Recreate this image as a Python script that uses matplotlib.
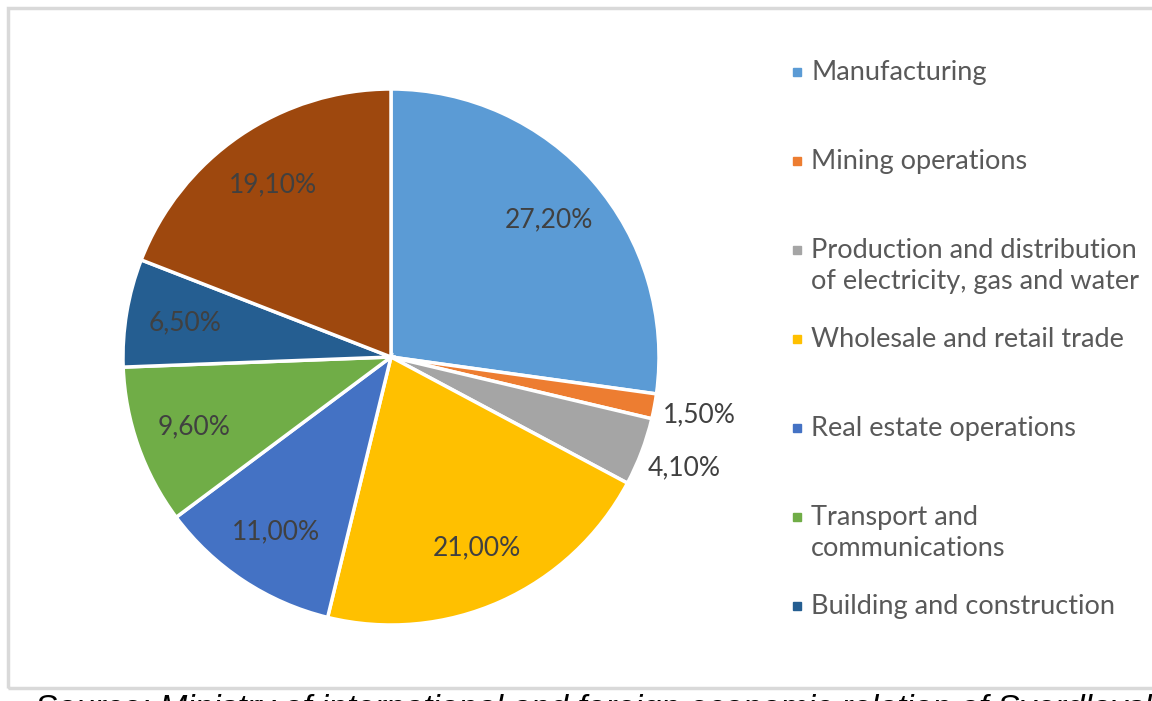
import matplotlib
matplotlib.use("Agg")
import matplotlib.pyplot as plt
import numpy as np
from matplotlib.patches import Rectangle

categories = [
    "Manufacturing",
    "Mining operations",
    "Production and distribution\nof electricity, gas and water",
    "Wholesale and retail trade",
    "Real estate operations",
    "Transport and\ncommunications",
    "Building and construction",
    "Other",
]
shares = [27.2, 1.5, 4.1, 21.0, 11.0, 9.6, 6.5, 19.1]
colors = ["#5B9BD5", "#ED7D31", "#A5A5A5", "#FFC000", "#4472C4", "#70AD47", "#255E91", "#9E480E"]
legend_count = 7  # the last entry is cut off in the original

W, H = 1152, 701
fig = plt.figure(figsize=(W / 100, H / 100), dpi=100)
plt.rcParams["font.family"] = ["Lato", "DejaVu Sans"]

# light frame around the chart area
fig.patches.append(Rectangle((8 / W, 1 - 688 / H), 1.2, 680 / H, transform=fig.transFigure,
                             fill=False, edgecolor="#d9d9d9", lw=2.5))

cx, cy, r = 391, 357, 268
ax = fig.add_axes([(cx - r) / W, (H - cy - r) / H, 2 * r / W, 2 * r / H])
wedges, _ = ax.pie(shares, colors=colors, startangle=90, counterclock=False,
                   wedgeprops=dict(edgecolor="white", linewidth=2.5))
ax.set_xlim(-1, 1)
ax.set_ylim(-1, 1)
ax.set_aspect("equal")
ax.axis("off")

# data labels
cum = 0.0
for val in shares:
    mid = (cum + val / 2) / 100 * 2 * np.pi
    cum += val
    dist = 1.17 if val < 5 else 0.78
    x, y = dist * np.sin(mid), dist * np.cos(mid)
    ax.text(x, y, f"{val:.2f}%".replace(".", ","), ha="center", va="center",
            fontsize=19, color="#404040", clip_on=False)

# legend drawn as Excel does: equal slots, text top-aligned
for i in range(legend_count):
    yc = 72 + 89 * i
    fig.patches.append(Rectangle((793 / W, 1 - (yc + 4) / H), 8 / W, 8 / H,
                                 transform=fig.transFigure, color=colors[i]))
    fig.text(811 / W, 1 - (yc - 12) / H, categories[i], ha="left", va="top",
             fontsize=19.5, color="#595959", linespacing=1.28)

fig.text(35 / W, -17 / H, "Source: Ministry of international and foreign economic relation of Sverdlovsk region",
         ha="left", va="baseline", fontsize=24, style="italic", color="black",
         family=["Liberation Sans", "DejaVu Sans"])

fig.savefig("out.png", dpi=100)
